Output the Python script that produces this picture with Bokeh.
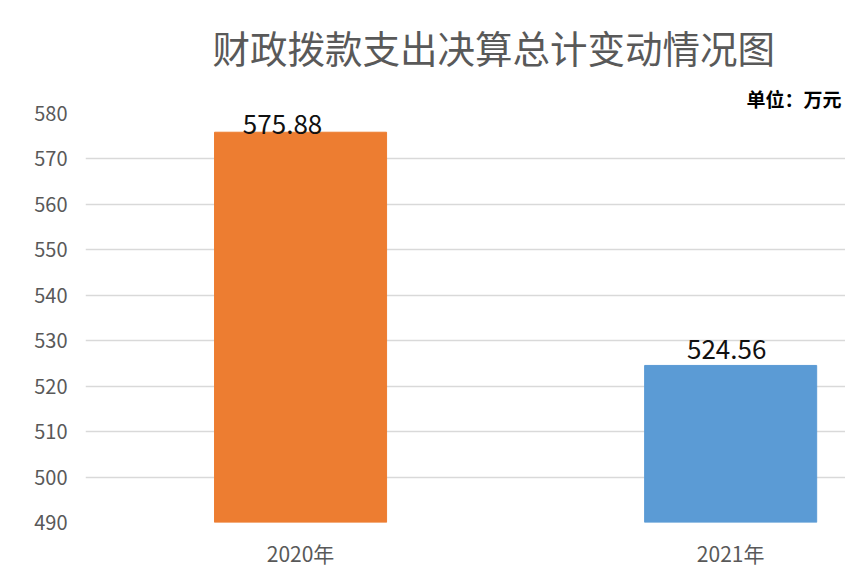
from bokeh.plotting import figure
from bokeh.models import Range1d, Title, FixedTicker, ColumnDataSource, LabelSet
from bokeh.core.properties import value
from bokeh.embed import file_html
from bokeh.resources import INLINE

categories = ["2020年", "2021年"]
values = [575.88, 524.56]
value_texts = ["575.88", "524.56"]
bar_colors = ["#ED7D31", "#5B9BD5"]
y_ticks = [490, 500, 510, 520, 530, 540, 550, 560, 570, 580]
title_text = "财政拨款支出决算总计变动情况图"
unit_text = "单位：万元"
label_shift_px = [-18, -4]

y_min, y_max = y_ticks[0], y_ticks[-1]
positions = list(range(len(categories)))

p = figure(width=845, height=577, output_backend="svg", toolbar_location=None,
           x_range=Range1d(-0.5, 1.267), y_range=Range1d(y_min, y_max),
           min_border_left=85, min_border_right=0, min_border_top=113, min_border_bottom=55)

p.add_layout(Title(text=unit_text, align="right", offset=4, standoff=4,
                   text_font_size="19px", text_font="Noto Sans CJK SC",
                   text_font_style="bold", text_color="#000000"), "above")
p.add_layout(Title(text=title_text, align="left", offset=127, standoff=14,
                   text_font_size="37.5px", text_font="Noto Sans CJK SC",
                   text_font_style="normal", text_color="#595959"), "above")

src = ColumnDataSource(dict(x=positions, top=values, color=bar_colors,
                            label=value_texts, dx=label_shift_px,
                            ly=[min(v + 1.5, y_max - 4.6) for v in values]))
p.vbar(x="x", top="top", bottom=y_min, width=0.4, color="color", source=src)

p.add_layout(LabelSet(x="x", y="ly", text="label", source=src, text_align="center",
                      x_offset="dx",
                      text_baseline="bottom", text_font_size="26px",
                      text_font=value("Noto Sans CJK SC"), text_color="#111111"))

p.outline_line_color = None
p.xgrid.grid_line_color = None
p.ygrid.ticker = FixedTicker(ticks=y_ticks)
p.ygrid.grid_line_color = "#D9D9D9"
p.ygrid.grid_line_width = 1.5

p.yaxis.ticker = FixedTicker(ticks=y_ticks)
p.xaxis.ticker = FixedTicker(ticks=positions)
p.xaxis.major_label_overrides = {i: c for i, c in zip(positions, categories)}
for ax in (p.xaxis, p.yaxis):
    ax.axis_line_color = None
    ax.major_tick_line_color = None
    ax.minor_tick_line_color = None
    ax.major_tick_out = 0
    ax.major_tick_in = 0
    ax.major_label_text_font = "Noto Sans CJK SC"
    ax.major_label_text_color = "#595959"
p.yaxis.major_label_text_font_size = "20px"
p.xaxis.major_label_text_font_size = "21px"
p.yaxis.major_label_standoff = 18
p.xaxis.major_label_standoff = 15

open("out.html", "w").write(file_html(p, INLINE))
